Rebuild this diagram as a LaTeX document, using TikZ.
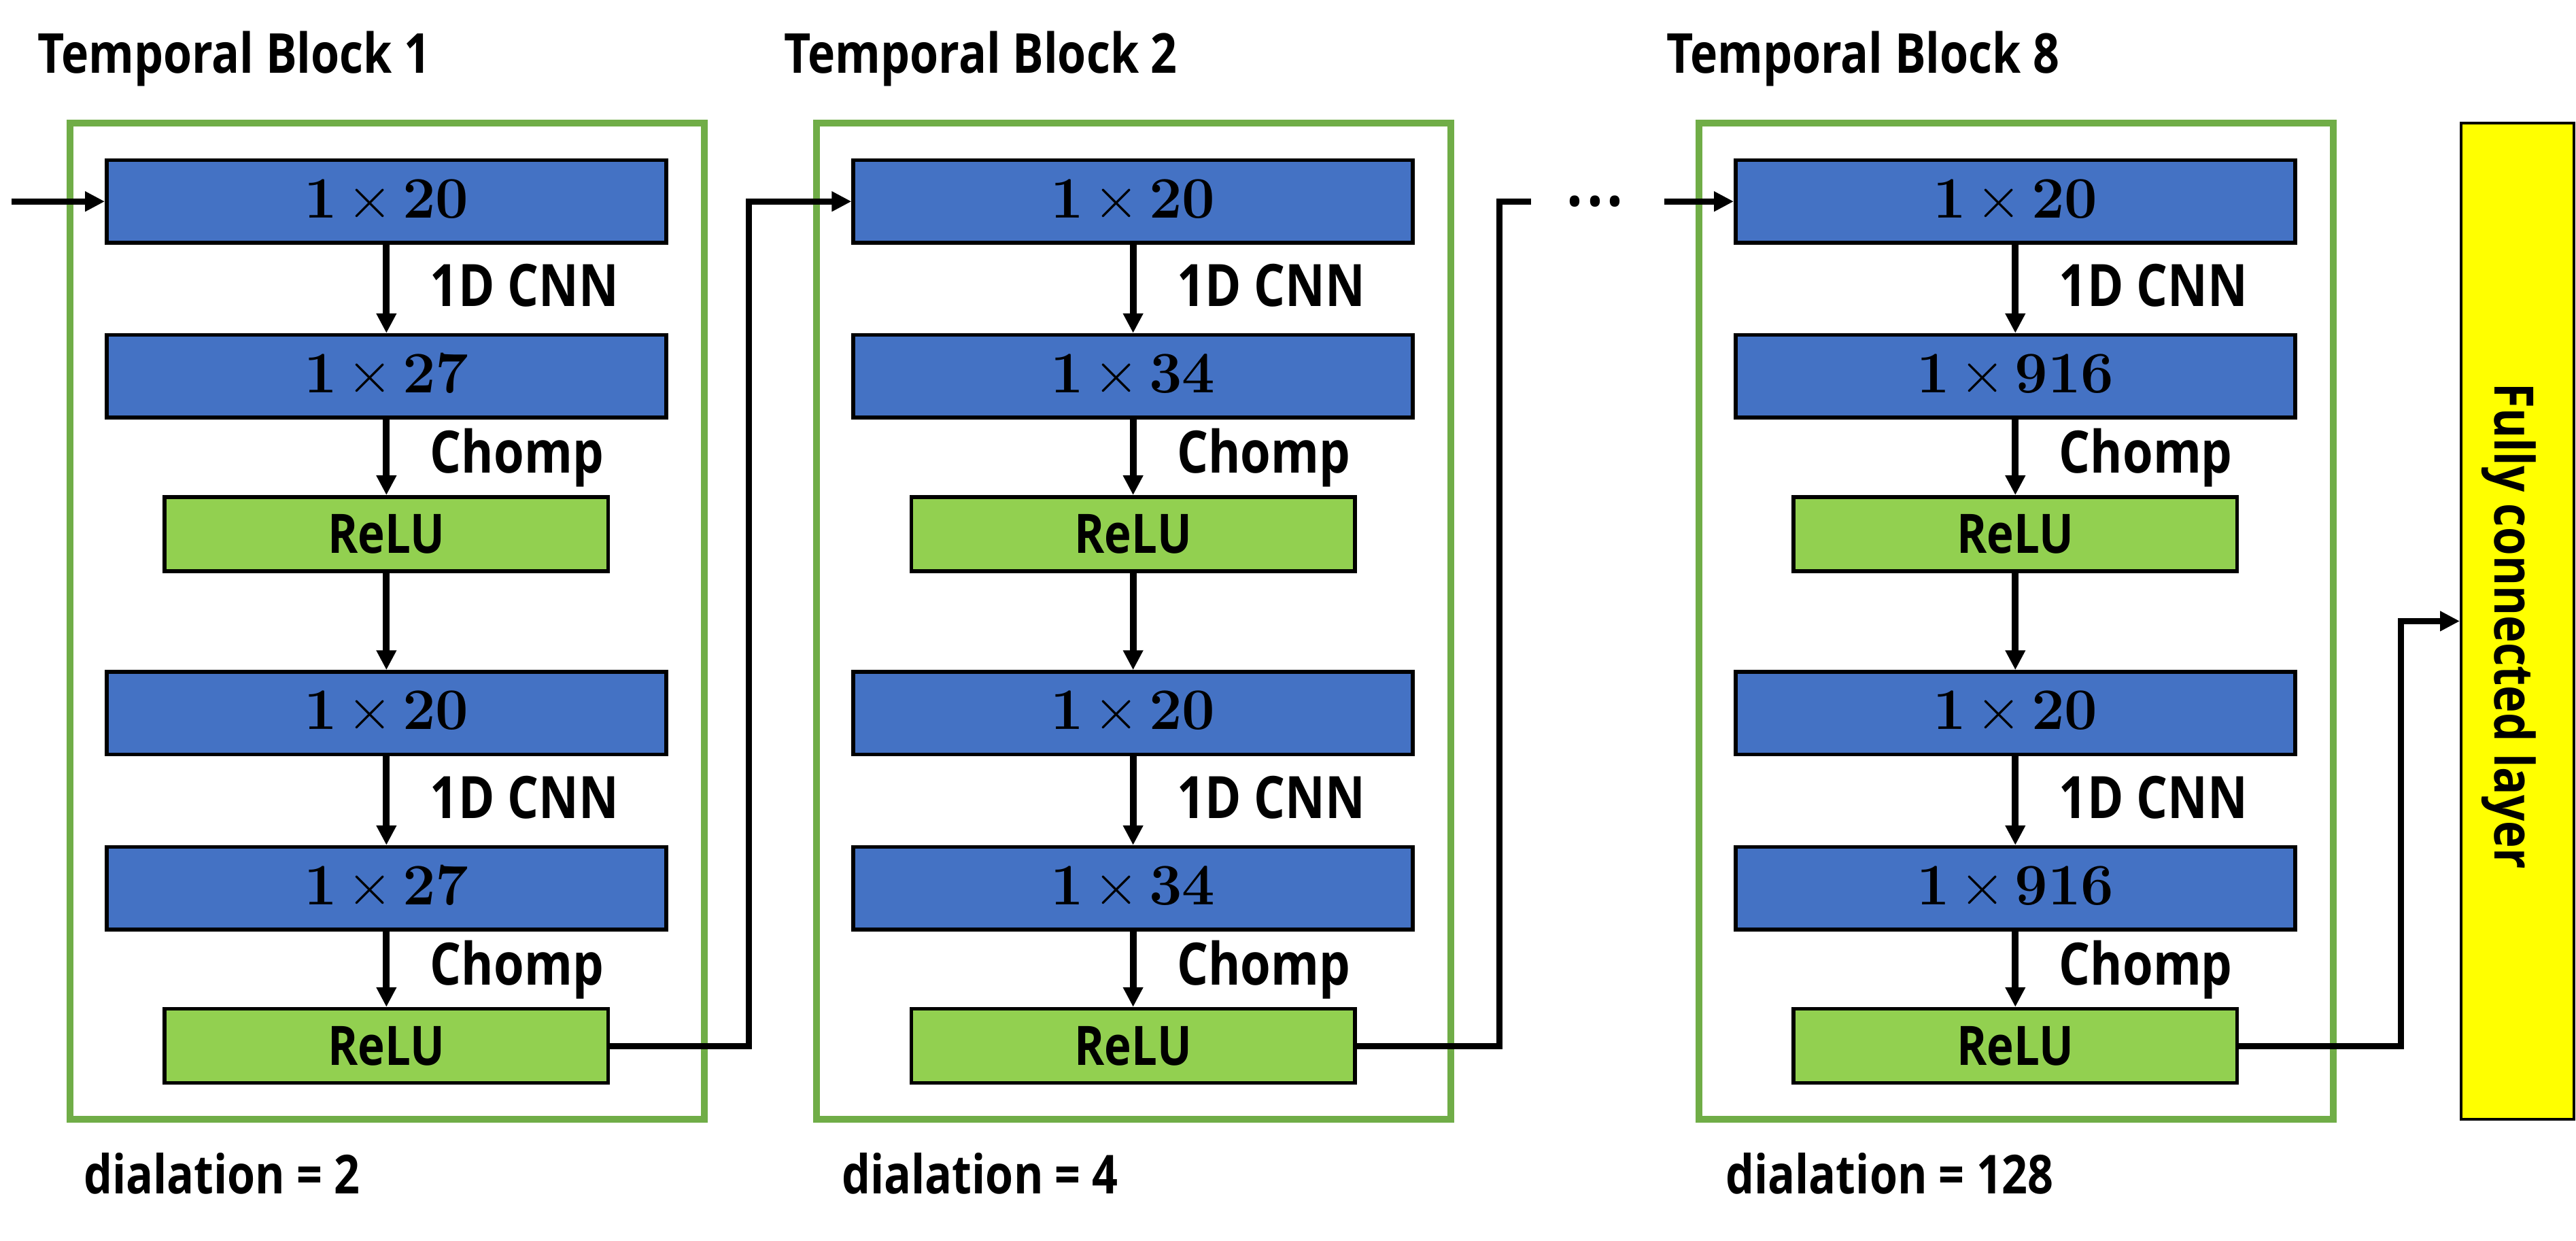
\documentclass[tikz,border=0pt]{standalone}
\usepackage[no-math]{fontspec}
\setmainfont{Open Sans}[FakeStretch=0.84]
\usetikzlibrary{arrows.meta}
\definecolor{cblue}{HTML}{4472C4}
\definecolor{cgreen}{HTML}{92D050}
\definecolor{cframe}{HTML}{70AD47}
\definecolor{cyellow}{HTML}{FFFF00}
\begin{document}
\begin{tikzpicture}[x=0.4833pt,y=-0.4833pt,
  frame/.style={draw=cframe,line width=2pt,minimum width=186.6pt,minimum height=292.9pt,inner sep=0pt},
  conv/.style={draw=black,line width=1.1pt,fill=cblue,minimum width=164.6pt,minimum height=24.3pt,inner sep=0pt,font=\fontsize{16.5}{18}\selectfont},
  relu/.style={draw=black,line width=1.1pt,fill=cgreen,minimum width=130.5pt,minimum height=21.8pt,inner sep=0pt,font=\fontsize{16}{18}\selectfont\bfseries},
  lbl/.style={anchor=base west,inner sep=0pt,font=\fontsize{17.2}{18}\selectfont\bfseries},
  dil/.style={anchor=base west,inner sep=0pt,font=\fontsize{15.8}{18}\selectfont\bfseries},
  title/.style={anchor=base west,inner sep=0pt,font=\fontsize{16.2}{18}\selectfont\bfseries},
  arr/.style={line width=2pt,-{Triangle[length=5.8pt,width=5.6pt]}},
  link/.style={line width=1.8pt,-{Triangle[length=5.8pt,width=5.6pt]}},
  fcbox/.style={draw=black,line width=0.8pt,fill=cyellow,minimum width=33.1pt,minimum height=292.9pt,inner sep=0pt},
]
\useasboundingbox (0,0) rectangle (1568,755.2);
\foreach \b/\L/\n/\v/\dx in {1/42.5/27/2/8, 2/497/34/4/15, 8/1034/916/128/16}{
  \node[frame] (f\b) at (\L+193,378) {};
  \node[title] (t\b) at (\L-20,44.4) {Temporal Block \b};
  \node[conv] (b\b-1) at (\L+192.7,122.6) {$\mathbf{1}\mkern-1mu\times\mkern-1mu\mathbf{20}$};
  \node[conv] (b\b-2) at (\L+192.7,229) {$\mathbf{1}\mkern-1mu\times\mkern-1mu\mathbf{\n}$};
  \node[relu] (b\b-3) at (\L+192.7,325) {ReLU};
  \node[conv] (b\b-4) at (\L+192.7,434) {$\mathbf{1}\mkern-1mu\times\mkern-1mu\mathbf{20}$};
  \node[conv] (b\b-5) at (\L+192.7,540.6) {$\mathbf{1}\mkern-1mu\times\mkern-1mu\mathbf{\n}$};
  \node[relu] (b\b-6) at (\L+192.7,636.5) {ReLU};
  \draw[arr] (b\b-1) -- (b\b-2);
  \draw[arr] (b\b-2) -- (b\b-3);
  \draw[arr] (b\b-3) -- (b\b-4);
  \draw[arr] (b\b-4) -- (b\b-5);
  \draw[arr] (b\b-5) -- (b\b-6);
  \node[lbl] (c\b-1) at (\L+219,186.5) {1D CNN};
  \node[lbl] (h\b-1) at (\L+219,288) {Chomp};
  \node[lbl] (c\b-2) at (\L+219,498) {1D CNN};
  \node[lbl] (h\b-2) at (\L+219,599.6) {Chomp};
  \node[dil] (d\b) at (\L+\dx,726.6) {dialation = \v};
}
% input
\coordinate (in) at (7,122.6);
\draw[link] (in) -- (b1-1.west);
% block 1 -> block 2
\coordinate (j1) at (456,0);
\draw[link] (b1-6.east) -- (b1-6.east -| j1) |- (b2-1.west);
% block 2 -> dots
\coordinate (j2) at (912.5,0);
\coordinate (stub) at (932,122.6);
\draw[line width=1.8pt] (b2-6.east) -- (b2-6.east -| j2) |- (stub);
\node[inner sep=0pt,anchor=base,font=\fontsize{20}{20}\selectfont\bfseries] (dots) at (971,137) {·\hspace{1.1pt}·\hspace{1.1pt}·};
\coordinate (din) at (1013,122.6);
\draw[link] (din) -- (b8-1.west);
% FC
\node[fcbox] (fc) at (1532.3,378) {};
\node[rotate=-90,anchor=base,inner sep=0pt,font=\fontsize{16}{18}\selectfont\bfseries] (fct) at (1518.5,381) {Fully connected layer};
\coordinate (j3) at (1461.5,0);
\draw[link] (b8-6.east) -- (b8-6.east -| j3) |- (fc.west);
\end{tikzpicture}
\end{document}
